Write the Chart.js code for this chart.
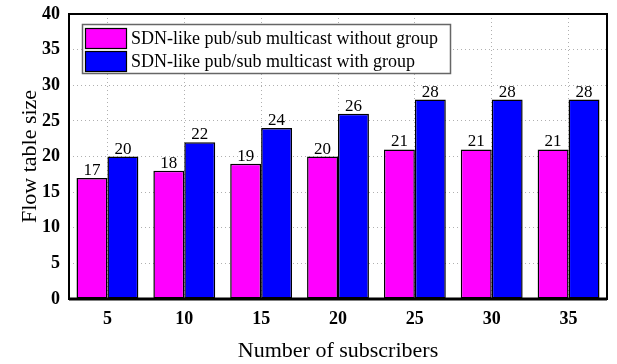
<!DOCTYPE html>
<html>
<head>
<meta charset="utf-8">
<script src="https://cdn.jsdelivr.net/npm/chart.js@4"></script>
<style>
  html, body { margin: 0; padding: 0; background: #fff; }
  #wrap { width: 617px; height: 364px; }
</style>
</head>
<body>
<div id="wrap"><canvas id="c" width="617" height="364"></canvas></div>
<script>
const subscribers = ['5', '10', '15', '20', '25', '30', '35'];
const withoutGroup = [17, 18, 19, 20, 21, 21, 21];
const withGroup = [20, 22, 24, 26, 28, 28, 28];
const seriesNames = ['SDN-like pub/sub multicast without group', 'SDN-like pub/sub multicast with group'];
const yTicks = [0, 5, 10, 15, 20, 25, 30, 35, 40];

const SERIF = '"Liberation Serif", "Times New Roman", serif';

// Numbers printed on top of each bar
const valueLabels = {
  id: 'valueLabels',
  afterDatasetsDraw(chart) {
    const ctx = chart.ctx;
    ctx.save();
    ctx.font = '17px ' + SERIF;
    ctx.fillStyle = '#000';
    ctx.textAlign = 'center';
    ctx.textBaseline = 'alphabetic';
    chart.data.datasets.forEach((ds, i) => {
      chart.getDatasetMeta(i).data.forEach((bar, j) => {
        ctx.fillText(String(ds.data[j]), bar.x, bar.y - 3);
      });
    });
    ctx.restore();
  }
};

// Boxed legend placed inside the plot area, top-left
const insetLegend = {
  id: 'insetLegend',
  afterDraw(chart) {
    const ctx = chart.ctx;
    const area = chart.chartArea;
    const x0 = area.left + 13, y0 = area.top + 10;
    const w = 368, rowH = 23;
    ctx.save();
    ctx.fillStyle = '#fff';
    ctx.fillRect(x0, y0, w, rowH * 2 + 3);
    ctx.strokeStyle = '#666';
    ctx.lineWidth = 1.5;
    ctx.strokeRect(x0 + 0.5, y0 + 0.5, w, rowH * 2 + 3);
    ctx.font = '18px ' + SERIF;
    ctx.textBaseline = 'middle';
    chart.data.datasets.forEach((ds, i) => {
      const ry = y0 + 3 + i * rowH;
      ctx.fillStyle = ds.backgroundColor;
      ctx.fillRect(x0 + 3, ry + 1, 41, 20);
      ctx.strokeStyle = '#000';
      ctx.lineWidth = 1.2;
      ctx.strokeRect(x0 + 3.5, ry + 1.5, 41, 20);
      ctx.fillStyle = '#000';
      ctx.fillText(ds.label, x0 + 49, ry + 12);
    });
    ctx.restore();
  }
};

// Solid frame around the plot area
const frame = {
  id: 'frame',
  afterDraw(chart) {
    const ctx = chart.ctx;
    const a = chart.chartArea;
    ctx.save();
    ctx.strokeStyle = '#000';
    ctx.lineWidth = 2;
    ctx.strokeRect(a.left, a.top, a.right - a.left, a.bottom - a.top);
    ctx.beginPath();
    ctx.lineWidth = 3;
    ctx.moveTo(a.left, a.bottom);
    ctx.lineTo(a.right, a.bottom);
    ctx.stroke();
    ctx.restore();
  }
};

new Chart(document.getElementById('c'), {
  type: 'bar',
  data: {
    labels: subscribers,
    datasets: [
      { label: seriesNames[0], data: withoutGroup, backgroundColor: '#ff00ff', borderColor: '#000', borderWidth: 1.5, borderSkipped: false },
      { label: seriesNames[1], data: withGroup, backgroundColor: '#0000ff', borderColor: '#000', borderWidth: 1.5, borderSkipped: false }
    ]
  },
  options: {
    responsive: false,
    animation: false,
    devicePixelRatio: 1,
    layout: { padding: { top: 14, right: 10, left: 17, bottom: 0 } },
    datasets: { bar: { categoryPercentage: 0.805, barPercentage: 1.0 } },
    plugins: {
      legend: { display: false },
      tooltip: { enabled: false }
    },
    scales: {
      x: {
        afterFit(scale) { scale.height = 65; scale.paddingLeft = 0; scale.paddingRight = 0; },
        grid: { color: '#b0b0b0', lineWidth: 1, offset: false, drawTicks: false },
        border: { display: false, dash: [1, 3] },
        ticks: { color: '#000', font: { family: SERIF, size: 18, weight: 'bold' }, padding: 10 },
        title: { display: true, text: 'Number of subscribers', color: '#000', font: { family: SERIF, size: 22 }, padding: 0 }
      },
      y: {
        min: 0, max: 40,
        afterBuildTicks(scale) { scale.ticks = yTicks.map(v => ({ value: v })); },
        afterFit(scale) { scale.width = 52; scale.paddingTop = 0; scale.paddingBottom = 0; },
        grid: { color: '#b0b0b0', lineWidth: 1, drawTicks: false },
        border: { display: false, dash: [1, 3] },
        ticks: { color: '#000', font: { family: SERIF, size: 18, weight: 'bold' }, padding: 9 },
        title: { display: true, text: 'Flow table size', color: '#000', font: { family: SERIF, size: 22 }, padding: 0 }
      }
    }
  },
  plugins: [valueLabels, insetLegend, frame]
});
</script>
</body>
</html>
